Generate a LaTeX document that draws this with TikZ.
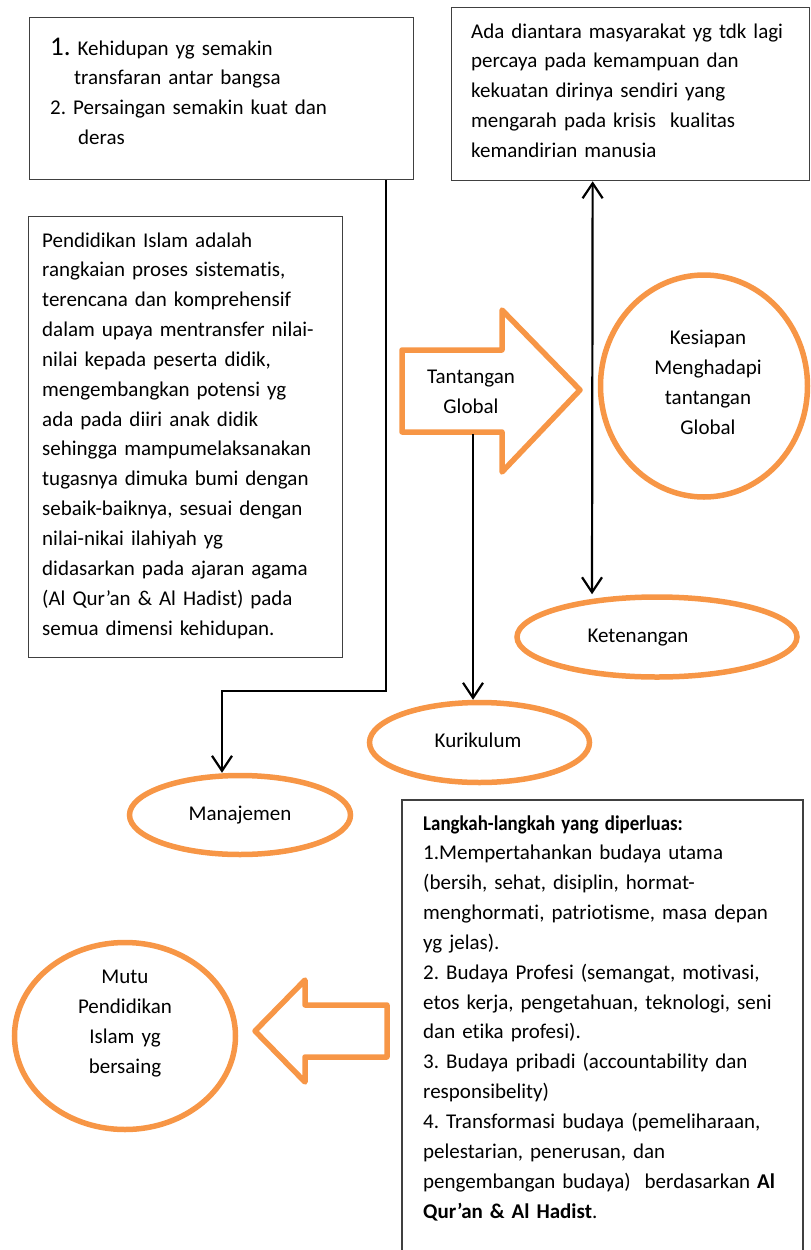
\documentclass[tikz,border=0pt]{standalone}
\usepackage{fontspec}
\usepackage{graphicx}
\setmainfont{Carlito}[RawFeature={-liga;-dlig}]
\frenchspacing
\usetikzlibrary{arrows.meta,shapes.geometric}
\definecolor{accorange}{RGB}{247,150,70}
\definecolor{boxgray}{RGB}{64,64,64}
\begin{document}
\begin{tikzpicture}[x=1pt,y=-1pt,
  boxnode/.style={draw=boxgray,line width=1.3pt,rectangle,inner sep=0pt,anchor=north west},
  oval/.style={draw=accorange,line width=5.5pt,ellipse,inner sep=0pt},
  txt/.style={font=\fontsize{21}{29.85}\selectfont,align=left,text width=400pt,inner sep=0pt,anchor=base west},
  ctxt/.style={font=\fontsize{21}{30}\selectfont,align=center,text width=220pt,inner sep=0pt,anchor=base},
  conn/.style={draw=black,line width=2.2pt},
  tipend/.style={-{Straight Barb[length=15pt,width=20pt]}},
  blockarrow/.style={draw=accorange,line width=5.5pt,line join=round}
]
\useasboundingbox (0,0) rectangle (811,1250);

% boxes
\node[boxnode,minimum width=384pt,minimum height=162pt] (box1) at (29,17) {};
\node[boxnode,minimum width=358pt,minimum height=173pt] (box2) at (451,7) {};
\node[boxnode,minimum width=314pt,minimum height=441pt] (box3) at (28,216) {};
\draw[draw=boxgray,line width=1.3pt] (402,1250) |- (803,800) -- (803,1250);
\coordinate (box4) at (402,800);

% box texts
\node[txt] (t1) at (50,55) {{\fontsize{27}{30}\selectfont 1.} Kehidupan yg semakin\\
\hspace*{24pt}transfaran antar bangsa\\
2. Persaingan semakin kuat dan\\
\hspace*{28pt}deras};

\node[txt] (t2) at (471,38) {Ada diantara masyarakat yg tdk lagi\\
percaya pada kemampuan dan\\
kekuatan dirinya sendiri yang\\
mengarah pada krisis\ \ kualitas\\
kemandirian manusia};

\node[txt] (t3) at (42,247) {Pendidikan Islam adalah\\
rangkaian proses sistematis,\\
terencana dan komprehensif\\
dalam upaya mentransfer nilai-\\
nilai kepada peserta didik,\\
mengembangkan potensi yg\\
ada pada diiri anak didik\\
sehingga mampumelaksanakan\\
tugasnya dimuka bumi dengan\\
sebaik-baiknya, sesuai dengan\\
nilai-nikai ilahiyah yg\\
didasarkan pada ajaran agama\\
(Al Qur’an \& Al Hadist) pada\\
semua dimensi kehidupan.};

\node[txt] (t4) at (423,830) {\scalebox{0.9}[1]{\textbf{Langkah-langkah yang diperluas:}}\\
1.Mempertahankan budaya utama\\
(bersih, sehat, disiplin, hormat-\\
menghormati, patriotisme, masa depan\\
yg jelas).\\
2. Budaya Profesi (semangat, motivasi,\\
etos kerja, pengetahuan, teknologi, seni\\
dan etika profesi).\\
3. Budaya pribadi (accountability dan\\
responsibelity)\\
4. Transformasi budaya (pemeliharaan,\\
pelestarian, penerusan, dan\\
pengembangan budaya)\ \ berdasarkan \textbf{Al}\\
\textbf{Qur’an \& Al Hadist}.};

% ovals
\node[oval,minimum width=207pt,minimum height=222pt] (kes) at (704,386) {};
\node[ctxt] (kest) at (708,344) {Kesiapan\\Menghadapi\\tantangan\\Global};
\node[oval,minimum width=280pt,minimum height=80pt] (ket) at (657,637) {};
\node[ctxt] (kett) at (638,642) {Ketenangan};
\node[oval,minimum width=220pt,minimum height=80pt] (kur) at (479.5,742.5) {};
\node[ctxt] (kurt) at (478,747) {Kurikulum};
\node[oval,minimum width=221pt,minimum height=79pt] (man) at (240,815) {};
\node[ctxt] (mant) at (240,820) {Manajemen};
\node[oval,minimum width=221pt,minimum height=187pt] (mutu) at (125,1036) {};
\node[ctxt] (mutut) at (125,983) {Mutu\\Pendidikan\\Islam yg\\bersaing};

% block arrows
\draw[blockarrow] (402,350) -- (502,350) -- (502,310) -- (580,390) -- (502,472) -- (502,432) -- (402,432) -- cycle;
\node[ctxt] (tant) at (471,383) {Tantangan\\Global};
\coordinate (tantbot) at (473,434);
\draw[blockarrow] (387,1005) -- (305,1005) -- (305,980) -- (255,1031) -- (305,1082) -- (305,1057) -- (387,1057) -- cycle;

% connectors
\coordinate (bend) at (222,691);
\draw[conn,tipend] ([xshift=-28pt]box1.south east) |- (bend) -- ([xshift=-18pt]man.north);
\draw[conn,tipend] (tantbot) -- ([xshift=-6.5pt]kur.north);
\draw[conn,{Straight Barb[length=15pt,width=20pt]}-{Straight Barb[length=15pt,width=20pt]}] ([xshift=-38pt]box2.south) -- ([xshift=-65pt]ket.north);
\end{tikzpicture}
\end{document}
